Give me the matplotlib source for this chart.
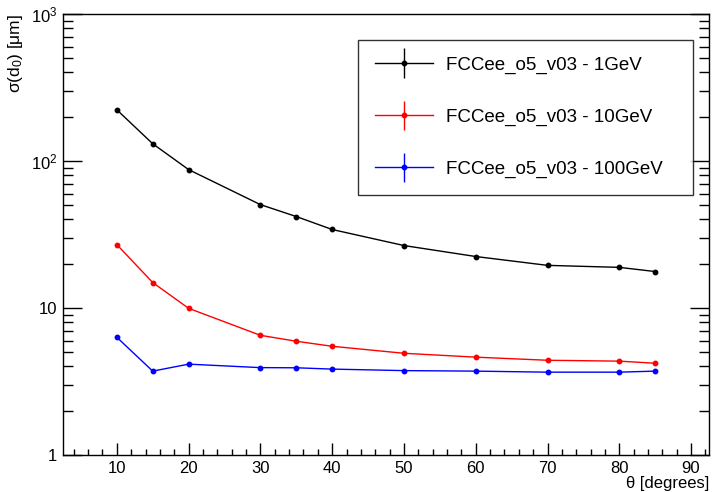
import matplotlib
matplotlib.use('Agg')
import matplotlib.pyplot as plt
import numpy as np
from matplotlib.ticker import FixedLocator, FixedFormatter, MultipleLocator, LogLocator, NullFormatter
from matplotlib.legend_handler import HandlerErrorbar

plt.rcParams['font.family'] = ['Liberation Sans', 'DejaVu Sans']
plt.rcParams['mathtext.fontset'] = 'custom'
plt.rcParams['mathtext.rm'] = 'Liberation Sans'
plt.rcParams['mathtext.it'] = 'Liberation Sans:italic'

# Data
theta = np.array([10, 15, 20, 30, 35, 40, 50, 60, 70, 80, 85])
sigma_1gev = np.array([223, 131, 87.4, 50.5, 41.9, 34.2, 26.6, 22.4, 19.5, 18.9, 17.7])
sigma_10gev = np.array([27.0, 14.9, 9.95, 6.52, 5.94, 5.49, 4.92, 4.63, 4.41, 4.35, 4.21])
sigma_100gev = np.array([6.32, 3.72, 4.15, 3.93, 3.92, 3.84, 3.75, 3.72, 3.66, 3.66, 3.72])

labels = ['FCCee_o5_v03 - 1GeV', 'FCCee_o5_v03 - 10GeV', 'FCCee_o5_v03 - 100GeV']
colors = ['black', 'red', 'blue']
series = [sigma_1gev, sigma_10gev, sigma_100gev]

fig = plt.figure(figsize=(7.15, 4.92), dpi=100)
ax = fig.add_axes([63 / 715, 37 / 492, 646 / 715, 441 / 492])

for y, c, lab in zip(series, colors, labels):
    ax.errorbar(theta, y, yerr=np.zeros_like(y), color=c, marker='o', markersize=3.2,
                linewidth=1.0, elinewidth=1.0, capsize=0, label=lab)

ax.set_yscale('log')
ax.set_ylim(1, 1000)
ax.set_xlim(2.5, 92.5)

ax.yaxis.set_major_locator(FixedLocator([1, 10, 100, 1000]))
ax.yaxis.set_major_formatter(FixedFormatter(['1', '10', r'$10^{2}$', r'$10^{3}$']))
ax.yaxis.set_minor_locator(LogLocator(base=10, subs=np.arange(2, 10), numticks=20))
ax.yaxis.set_minor_formatter(NullFormatter())
ax.xaxis.set_major_locator(MultipleLocator(10))
ax.xaxis.set_minor_locator(MultipleLocator(2))

ax.tick_params(axis='both', which='both', direction='in', labelsize=12, width=1.0)
ax.tick_params(axis='y', which='both', right=True, pad=4)
ax.tick_params(axis='y', which='major', length=14)
ax.tick_params(axis='y', which='minor', length=7)
ax.tick_params(axis='x', which='major', length=8.5, pad=4)
ax.tick_params(axis='x', which='minor', length=4.3)
for s in ax.spines.values():
    s.set_linewidth(1.0)

ax.set_xlabel('θ [degrees]', loc='right', fontsize=12, labelpad=0)
ax.set_ylabel(r'σ(d$_0$) [μm]', loc='top', fontsize=12.5, labelpad=4)

leg = ax.legend(loc='upper left', bbox_to_anchor=(0.457, 0.599, 0.518, 0.342), mode='expand',
                fontsize=13.5, frameon=True, fancybox=False, edgecolor='black',
                labelspacing=1.86, handlelength=3.1, handletextpad=0.7,
                borderpad=0.88, borderaxespad=0,
                handler_map={type(ax.containers[0]): HandlerErrorbar(xerr_size=0.5, yerr_size=0.78)})
leg.get_frame().set_linewidth(1.0)

fig.savefig('out.png', dpi=100)
